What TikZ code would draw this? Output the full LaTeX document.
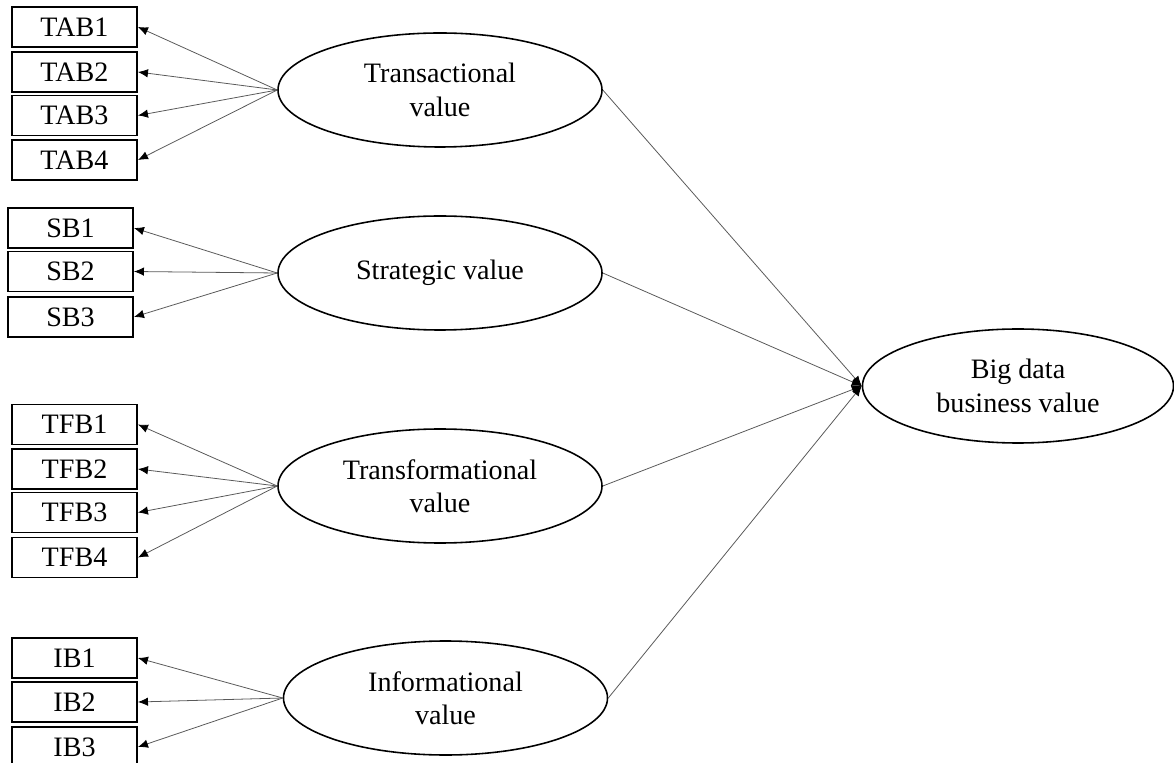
\documentclass[tikz,border=0pt]{standalone}
\usepackage{fontspec}
\setmainfont{Liberation Serif}
\usetikzlibrary{shapes.geometric,arrows.meta}
\begin{document}
\begin{tikzpicture} [every text node part/.style={align=center}, font=\fontsize{16pt}{19pt}\selectfont]
        \tikzset{
          item/.style={draw, line width=1.1pt, minimum width=2.5cm, minimum height=0.8cm, inner sep=0pt},
          construct/.style={draw, ellipse, line width=0.9pt, minimum width=6.48cm, minimum height=2.28cm, inner sep=0pt},
          load/.style={draw=black!65, line width=0.45pt, -{Latex[color=black,length=0.2cm,width=0.17cm]}},
        }
        \useasboundingbox (0,0) rectangle (23.48,15.24);
        \node [construct](trans) at (8.8,13.44) {Transactional \\ value};
        \node [construct](strat) at (8.8,9.78) {Strategic value};
        \node [construct](transf) at (8.8,5.52) {Transformational \\ value};
        \node [construct](info) at (8.91,1.28) {Informational \\ value};
        \node [construct, minimum width=6.22cm](bdbv) at (20.36,7.52) {Big data \\ business value};
        % 
        \node [item](tab1) at (1.49,14.70) {TAB1};
        \node [item](tab2) at (1.49,13.80) {TAB2};
        \node [item](tab3) at (1.49,12.93) {TAB3};
        \node [item](tab4) at (1.49,12.04) {TAB4};
        \draw [load] (trans.west) -- (tab1.east);
        \draw [load] (trans.west) -- (tab2.east);
        \draw [load] (trans.west) -- (tab3.east);
        \draw [load] (trans.west) -- (tab4.east);
        % 
        \node [item](sb1) at (1.41,10.68) {SB1};
        \node [item](sb2) at (1.41,9.81) {SB2};
        \node [item](sb3) at (1.41,8.90) {SB3};
        \draw [load] (strat.west) -- (sb1.east);
        \draw [load] (strat.west) -- (sb2.east);
        \draw [load] (strat.west) -- (sb3.east);
        % 
        \node [item](tfb1) at (1.49,6.75) {TFB1};
        \node [item](tfb2) at (1.49,5.86) {TFB2};
        \node [item](tfb3) at (1.49,4.99) {TFB3};
        \node [item](tfb4) at (1.49,4.09) {TFB4};
        \draw [load] (transf.west) -- (tfb1.east);
        \draw [load] (transf.west) -- (tfb2.east);
        \draw [load] (transf.west) -- (tfb3.east);
        \draw [load] (transf.west) -- (tfb4.east);
        % 
        \node [item](ib1) at (1.49,2.08) {IB1};
        \node [item](ib2) at (1.49,1.20) {IB2};
        \node [item](ib3) at (1.49,0.30) {IB3};
        \draw [load] (info.west) -- (ib1.east);
        \draw [load] (info.west) -- (ib2.east);
        \draw [load] (info.west) -- (ib3.east);
        % 
        \draw [load] (trans.east) -- (bdbv.west);
        \draw [load] (strat.east) -- (bdbv.west);
        \draw [load] (transf.east) -- (bdbv.west);
        \draw [load] (info.east) -- (bdbv.west);
    \end{tikzpicture}
\end{document}
